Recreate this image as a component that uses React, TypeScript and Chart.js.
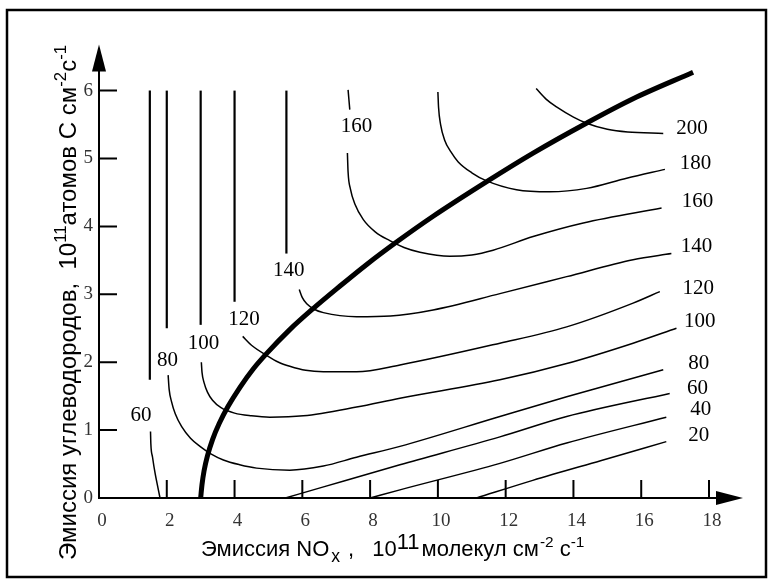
import React, { useEffect, useRef } from 'react';
import { Chart, registerables } from 'chart.js';

Chart.register(...registerables);

// ---- axis ticks ----
const xTickValues = [0, 2, 4, 6, 8, 10, 12, 14, 16, 18];
const yTickValues = [0, 1, 2, 3, 4, 5, 6];

// ---- ridge line (thick) ----
const ridgeX = [3.0, 3.04, 3.1, 3.2, 3.35, 3.55, 3.81, 4.16, 4.55, 4.95, 5.63, 6.32, 7.06, 7.9, 8.78, 9.86, 11.44, 12.81, 14.38, 15.76, 17.53];
const ridgeY = [0, 0.2, 0.4, 0.62, 0.86, 1.1, 1.35, 1.63, 1.9, 2.13, 2.48, 2.79, 3.1, 3.44, 3.77, 4.15, 4.66, 5.08, 5.52, 5.88, 6.27];

// ---- isopleths ----
const iso200X = [12.9, 13.2, 13.5, 14.0, 14.39, 15.0, 15.6, 16.65];
const iso200Y = [6.03, 5.87, 5.76, 5.61, 5.52, 5.43, 5.39, 5.37];

const iso180X = [10.0, 10.02, 10.08, 10.2, 10.38, 10.6, 11.0, 11.44, 12.32, 13.3, 14.39, 15.57, 16.7];
const iso180Y = [5.98, 5.75, 5.5, 5.27, 5.1, 4.95, 4.79, 4.67, 4.54, 4.51, 4.56, 4.71, 4.84];

const iso160TopX = [7.35, 7.4];
const iso160TopY = [6.01, 5.72];
const iso160X = [7.33, 7.35, 7.42, 7.55, 7.8, 8.15, 8.58, 9.0, 9.47, 10.35, 11.0, 11.63, 12.81, 14.29, 16.6];
const iso160Y = [5.08, 4.8, 4.55, 4.33, 4.1, 3.92, 3.79, 3.69, 3.62, 3.56, 3.58, 3.65, 3.85, 4.05, 4.27];

const iso140VertX = [5.53, 5.53];
const iso140VertY = [3.6, 6.0];
const iso140X = [5.91, 6.0, 6.13, 6.35, 6.62, 7.6, 8.6, 9.86, 11.83, 13.8, 15.76, 16.89];
const iso140Y = [3.07, 2.95, 2.86, 2.78, 2.73, 2.67, 2.68, 2.77, 3.01, 3.26, 3.51, 3.6];

const iso120VertX = [4.0, 4.0];
const iso120VertY = [2.89, 6.0];
const iso120X = [4.24, 4.5, 4.95, 5.3, 5.63, 6.1, 6.62, 7.6, 8.88, 11.83, 13.8, 15.76, 16.55];
const iso120Y = [2.38, 2.25, 2.1, 2.0, 1.94, 1.88, 1.86, 1.86, 1.96, 2.28, 2.52, 2.87, 3.04];

const iso100VertX = [3.0, 3.0];
const iso100VertY = [2.55, 6.0];
const iso100X = [3.02, 3.04, 3.1, 3.2, 3.35, 3.6, 4.0, 4.5, 5.04, 6.03, 7.6, 8.88, 11.83, 13.8, 15.76, 17.04];
const iso100Y = [2.0, 1.85, 1.7, 1.56, 1.44, 1.33, 1.25, 1.21, 1.19, 1.21, 1.34, 1.47, 1.74, 1.98, 2.28, 2.5];

const iso80VertX = [2.0, 2.0];
const iso80VertY = [2.5, 6.0];
const iso80X = [2.04, 2.07, 2.14, 2.25, 2.44, 2.7, 2.98, 3.3, 3.67, 4.15, 4.65, 5.63, 6.62, 7.6, 8.88, 11.83, 13.8, 16.65];
const iso80Y = [1.81, 1.6, 1.42, 1.24, 1.05, 0.88, 0.76, 0.65, 0.56, 0.49, 0.44, 0.41, 0.47, 0.6, 0.76, 1.2, 1.49, 1.89];

const iso60VertX = [1.5, 1.5];
const iso60VertY = [1.74, 6.0];
const iso60LeftX = [1.52, 1.53, 1.58, 1.66, 1.74, 1.8];
const iso60LeftY = [0.98, 0.8, 0.6, 0.35, 0.15, 0];
const iso60RightX = [5.5, 6.6, 8.88, 11.83, 13.8, 16.84];
const iso60RightY = [0, 0.16, 0.49, 0.9, 1.2, 1.54];

const iso40X = [8.0, 8.88, 11.83, 13.8, 16.74];
const iso40Y = [0, 0.12, 0.51, 0.81, 1.19];

const iso20X = [11.14, 12.8, 14.8, 16.74];
const iso20Y = [0, 0.26, 0.55, 0.83];

// ---- contour labels ----
const labelTexts = ['160', '140', '120', '100', '80', '60', '200', '180', '160', '140', '120', '100', '80', '60', '40', '20'];
const labelX = [7.6, 5.6, 4.28, 3.08, 2.02, 1.24, 17.5, 17.6, 17.66, 17.63, 17.68, 17.73, 17.7, 17.66, 17.76, 17.7];
const labelY = [5.47, 3.35, 2.63, 2.27, 2.03, 1.21, 5.44, 4.93, 4.36, 3.7, 3.09, 2.6, 1.98, 1.62, 1.3, 0.92];

const pts = (xs: number[], ys: number[]) => xs.map((x, i) => ({ x, y: ys[i] }));

const thin = (xs: number[], ys: number[], w = 1.5) => ({
  data: pts(xs, ys),
  showLine: true,
  borderColor: '#000',
  borderWidth: w,
  pointRadius: 0,
  cubicInterpolationMode: 'monotone',
  fill: false,
  clip: false as any,
});

type Seg = { t: string; k?: 'sup' | 'sub' | 'big'; dx?: number };

function drawRich(ctx: CanvasRenderingContext2D, segs: Seg[], size: number, family: string) {
  let x = 0;
  for (const s of segs) {
    let fs = size;
    let dy = 0;
    if (s.k === 'sup') { fs = size * 0.7; dy = -size * 0.4; }
    if (s.k === 'big') { fs = size; dy = -size * 0.33; }
    if (s.k === 'sub') { fs = size * 0.8; dy = size * 0.25; }
    x += s.dx || 0;
    ctx.font = `${fs}px ${family}`;
    ctx.fillText(s.t, x, dy);
    x += ctx.measureText(s.t).width;
  }
}

const xTitle: Seg[] = [
  { t: 'Эмиссия NO' }, { t: 'x', k: 'sub', dx: 2 }, { t: ',', dx: 8 }, { t: '10', dx: 18 }, { t: '11', k: 'big' },
  { t: 'молекул см', dx: 2 }, { t: '-2', k: 'sup', dx: 1 }, { t: ' с' }, { t: '-1', k: 'sup' },
];
const yTitle: Seg[] = [
  { t: 'Эмиссия углеводородов,  10' }, { t: '11', k: 'sup' }, { t: 'атомов С см' },
  { t: '-2', k: 'sup' }, { t: 'с' }, { t: '-1', k: 'sup' },
];

const decorPlugin = {
  id: 'decor',
  afterDatasetsDraw(chart: any) {
    const ctx: CanvasRenderingContext2D = chart.ctx;
    const xs = chart.scales.x;
    const ys = chart.scales.y;
    const x0 = xs.getPixelForValue(0);
    const y0 = ys.getPixelForValue(0);
    ctx.save();
    ctx.strokeStyle = '#000';
    ctx.fillStyle = '#000';
    ctx.lineWidth = 2;
    ctx.lineCap = 'butt';
    // axes
    ctx.beginPath();
    ctx.moveTo(x0, y0);
    ctx.lineTo(xs.getPixelForValue(18) + 8, y0);
    ctx.moveTo(x0, y0 + 1);
    ctx.lineTo(x0, ys.getPixelForValue(6) - 20);
    ctx.stroke();
    // arrows
    const xa = xs.getPixelForValue(18) + 7;
    ctx.beginPath();
    ctx.moveTo(xa, y0 - 7);
    ctx.lineTo(xa + 27, y0);
    ctx.lineTo(xa, y0 + 7);
    ctx.closePath();
    ctx.fill();
    const ya = ys.getPixelForValue(6) - 19;
    ctx.beginPath();
    ctx.moveTo(x0 - 7, ya);
    ctx.lineTo(x0, ya - 27);
    ctx.lineTo(x0 + 7, ya);
    ctx.closePath();
    ctx.fill();
    // inner ticks
    ctx.beginPath();
    for (const v of xTickValues) {
      if (v === 0) continue;
      const p = xs.getPixelForValue(v);
      ctx.moveTo(p, y0);
      ctx.lineTo(p, y0 - 18);
    }
    for (const v of yTickValues) {
      if (v === 0) continue;
      const p = ys.getPixelForValue(v);
      ctx.moveTo(x0, p);
      ctx.lineTo(x0 + 18, p);
    }
    ctx.stroke();
    // contour labels
    ctx.font = '21px "Liberation Serif", "DejaVu Serif", serif';
    ctx.textAlign = 'center';
    ctx.textBaseline = 'middle';
    labelTexts.forEach((t, i) => {
      ctx.fillText(t, xs.getPixelForValue(labelX[i]), ys.getPixelForValue(labelY[i]));
    });
    // titles
    ctx.textAlign = 'left';
    ctx.textBaseline = 'alphabetic';
    const fam = '"Liberation Sans", Arial, sans-serif';
    ctx.save();
    ctx.translate(201, 556);
    drawRich(ctx, xTitle, 22, fam);
    ctx.restore();
    ctx.save();
    ctx.translate(76, 560);
    ctx.rotate(-Math.PI / 2);
    drawRich(ctx, yTitle, 24, fam);
    ctx.restore();
    // frame
    ctx.lineWidth = 2.5;
    ctx.strokeRect(7, 10, 759, 567);
    ctx.restore();
  },
};

export default function App() {
  const ref = useRef<HTMLCanvasElement>(null);
  useEffect(() => {
    if (!ref.current) return;
    const chart = new Chart(ref.current, {
      type: 'scatter',
      data: {
        datasets: [
          thin(iso200X, iso200Y),
          thin(iso180X, iso180Y),
          thin(iso160TopX, iso160TopY),
          thin(iso160X, iso160Y),
          thin(iso140VertX, iso140VertY, 2.2),
          thin(iso140X, iso140Y),
          thin(iso120VertX, iso120VertY, 2.2),
          thin(iso120X, iso120Y),
          thin(iso100VertX, iso100VertY, 2.2),
          thin(iso100X, iso100Y),
          thin(iso80VertX, iso80VertY, 2.2),
          thin(iso80X, iso80Y),
          thin(iso60VertX, iso60VertY, 2.2),
          thin(iso60LeftX, iso60LeftY),
          thin(iso60RightX, iso60RightY),
          thin(iso40X, iso40Y),
          thin(iso20X, iso20Y),
          { ...thin(ridgeX, ridgeY, 5), borderCapStyle: 'butt' },
        ] as any,
      },
      options: {
        animation: false,
        responsive: false,
        devicePixelRatio: 1,
        layout: { padding: { left: 59, right: 62, top: 56.65, bottom: 42 } },
        plugins: { legend: { display: false }, tooltip: { enabled: false } },
        events: [],
        scales: {
          x: {
            type: 'linear',
            min: 0,
            max: 18,
            border: { display: false },
            grid: { display: false, drawTicks: false, tickLength: 0 },
            afterBuildTicks: (s: any) => { s.ticks = xTickValues.map((v) => ({ value: v })); },
            afterFit: (s: any) => { s.height = 40; },
            ticks: {
              padding: 12,
              labelOffset: 3,
              color: '#333',
              font: { family: '"Liberation Serif", serif', size: 19 },
              maxRotation: 0,
              autoSkip: false,
            },
          },
          y: {
            type: 'linear',
            min: 0,
            max: 6.5,
            border: { display: false },
            grid: { display: false, drawTicks: false, tickLength: 0 },
            afterBuildTicks: (s: any) => { s.ticks = yTickValues.map((v) => ({ value: v })); },
            afterFit: (s: any) => { s.width = 40; },
            ticks: {
              padding: 6,
              color: '#333',
              font: { family: '"Liberation Serif", serif', size: 19 },
              autoSkip: false,
            },
          },
        },
      },
      plugins: [decorPlugin],
    });
    return () => chart.destroy();
  }, []);
  return (
    <div style={{ position: 'absolute', left: 0, top: 0, width: 771, height: 580, background: '#fff' }}>
      <canvas ref={ref} width={771} height={580} style={{ width: 771, height: 580, display: 'block' }} />
    </div>
  );
}
